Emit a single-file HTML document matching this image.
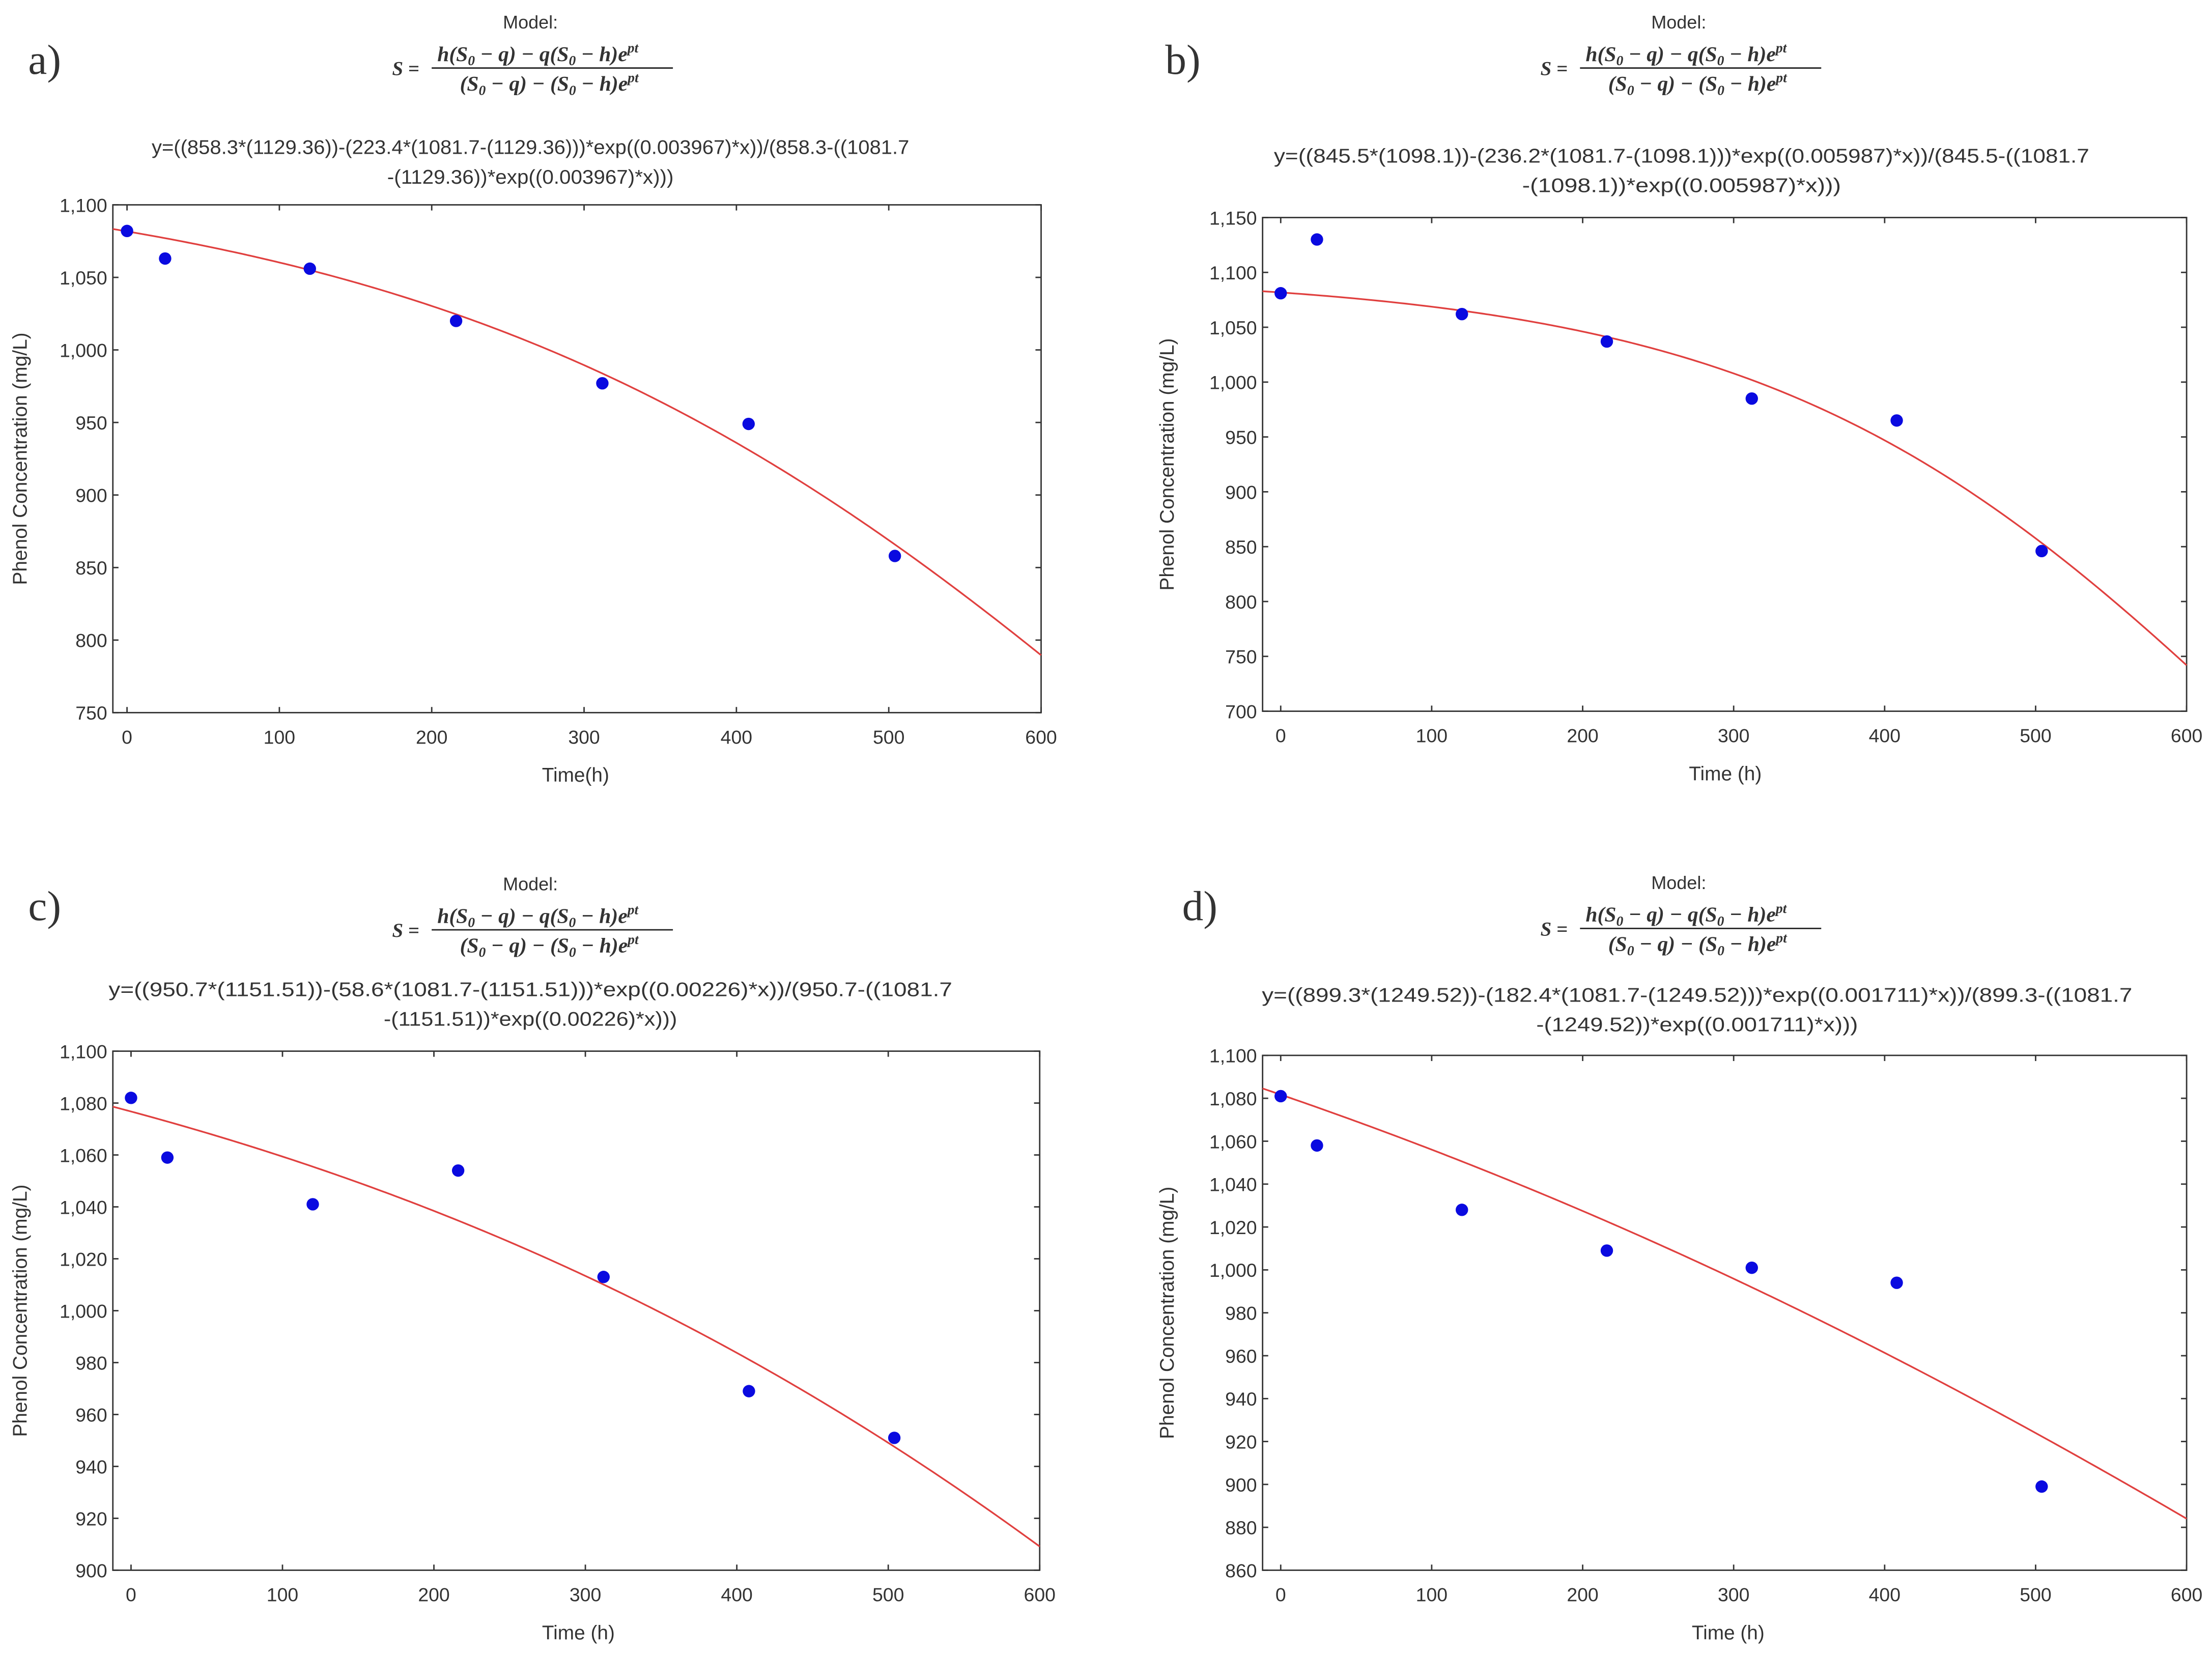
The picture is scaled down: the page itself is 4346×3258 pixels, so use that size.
<!DOCTYPE html>
<html><head><meta charset="utf-8"><style>
html,body{margin:0;padding:0;background:#fff;}
svg{display:block;}
text{font-family:"Liberation Sans",sans-serif;fill:#333;}
.serif{font-family:"Liberation Serif",serif;}
</style></head><body>
<svg id="fig" xmlns="http://www.w3.org/2000/svg" width="4346" height="3258" viewBox="0 0 1568 1175">
<rect width="1568" height="1175" fill="#fff"/>
</svg>
<script>
// Panel data (time in h, phenol concentration mg/L)
const timesA = [0, 25, 120, 216, 312, 408, 504];
const concA = [1082, 1063, 1056, 1020, 977, 949, 858];
const timesB = [0, 24, 120, 216, 312, 408, 504];
const concB = [1081, 1130, 1062, 1037, 985, 965, 846];
const timesC = [0, 24, 120, 216, 312, 408, 504];
const concC = [1082, 1059, 1041, 1054, 1013, 969, 951];
const timesD = [0, 24, 120, 216, 312, 408, 504];
const concD = [1081, 1058, 1028, 1009, 1001, 994, 899];
// Model parameters [a, b, c, k]
const paramsA = [858.3, 1129.36, 223.4, 0.003967];
const paramsB = [845.5, 1098.1, 236.2, 0.005987];
const paramsC = [950.7, 1151.51, 58.6, 0.00226];
const paramsD = [899.3, 1249.52, 182.4, 0.001711];
const xTicks = [0, 100, 200, 300, 400, 500, 600];
const yTicksA = [750, 800, 850, 900, 950, 1000, 1050, 1100];
const yTicksB = [700, 750, 800, 850, 900, 950, 1000, 1050, 1100, 1150];
const yTicksC = [900, 920, 940, 960, 980, 1000, 1020, 1040, 1060, 1080, 1100];
const yTicksD = [860, 880, 900, 920, 940, 960, 980, 1000, 1020, 1040, 1060, 1080, 1100];
const eqA = ["y=((858.3*(1129.36))-(223.4*(1081.7-(1129.36)))*exp((0.003967)*x))/(858.3-((1081.7", "-(1129.36))*exp((0.003967)*x)))"];
const eqB = ["y=((845.5*(1098.1))-(236.2*(1081.7-(1098.1)))*exp((0.005987)*x))/(845.5-((1081.7", "-(1098.1))*exp((0.005987)*x)))"];
const eqC = ["y=((950.7*(1151.51))-(58.6*(1081.7-(1151.51)))*exp((0.00226)*x))/(950.7-((1081.7", "-(1151.51))*exp((0.00226)*x)))"];
const eqD = ["y=((899.3*(1249.52))-(182.4*(1081.7-(1249.52)))*exp((0.001711)*x))/(899.3-((1081.7", "-(1249.52))*exp((0.001711)*x)))"];

const NS = "http://www.w3.org/2000/svg";
const svg = document.getElementById('fig');
function mk(tag, attrs, parent, txt){
  const e = document.createElementNS(NS, tag);
  for (const k in attrs) e.setAttribute(k, attrs[k]);
  if (txt !== undefined) e.textContent = txt;
  (parent || svg).appendChild(e);
  return e;
}
function fmt(v){ return v >= 1000 ? Math.floor(v/1000) + ',' + String(v%1000).padStart(3,'0') : String(v); }

function panel(id, label, L, cfg){
  const g = mk('g', {});
  
  
  const xs = v => L.x0 + (v - L.xmin) / (600 - L.xmin) * (L.x1 - L.x0);
  const ys = v => L.y1 - (v - cfg.ymin) / (cfg.ymax - cfg.ymin) * (L.y1 - L.y0);
  const pl = mk('text', {x: L.lx, y: L.ly, 'font-size': 30, class: 'serif', fill: '#111'}, g, label);
  
  
  const mt = mk('text', {x: L.fmx, y: L.my, 'font-size': 13, 'text-anchor': 'middle'}, g, 'Model:');
  
  
  const fg = mk('g', {}, g);
  
  
  const fx = L.fmx - 98, fy = L.my + 28;
  mk('text', {x: fx, y: fy + 5, 'font-size': 14, class: 'serif', 'font-weight': 'bold', 'font-style': 'italic', fill: '#222'}, fg, 'S =');
  mk('line', {x1: fx + 28, x2: fx + 199, y1: fy, y2: fy, stroke: '#222', 'stroke-width': 1}, fg);
  const num = mk('text', {x: fx + 32, y: fy - 5, 'font-size': 15, class: 'serif', 'font-weight': 'bold', 'font-style': 'italic', fill: '#222'}, fg);
  num.innerHTML = 'h(S<tspan font-size="10" dy="3">0</tspan><tspan dy="-3"> − q) − q(S</tspan><tspan font-size="10" dy="3">0</tspan><tspan dy="-3"> − h)e</tspan><tspan font-size="10" dy="-6">pt</tspan>';
  const den = mk('text', {x: fx + 48, y: fy + 16, 'font-size': 15, class: 'serif', 'font-weight': 'bold', 'font-style': 'italic', fill: '#222'}, fg);
  den.innerHTML = '(S<tspan font-size="10" dy="3">0</tspan><tspan dy="-3"> − q) − (S</tspan><tspan font-size="10" dy="3">0</tspan><tspan dy="-3"> − h)e</tspan><tspan font-size="10" dy="-6">pt</tspan>';
  const e1 = mk('text', {x: L.mx, y: L.e1, 'font-size': 14, 'text-anchor': 'middle', textLength: L.ew, lengthAdjust: 'spacingAndGlyphs'}, g, cfg.eq[0]);
  
  
  const e2 = mk('text', {x: L.mx, y: L.e1 + 21, 'font-size': 14, 'text-anchor': 'middle', textLength: L.ew2, lengthAdjust: 'spacingAndGlyphs'}, g, cfg.eq[1]);
  
  
  const box = mk('rect', {x: L.x0, y: L.y0, width: L.x1 - L.x0, height: L.y1 - L.y0, fill: '#fff', stroke: '#333', 'stroke-width': 1}, g);
  
  
  xTicks.forEach(t => {
    const x = xs(t);
    mk('line', {x1: x, x2: x, y1: L.y1, y2: L.y1 - 4, stroke: '#333'}, g);
    mk('line', {x1: x, x2: x, y1: L.y0, y2: L.y0 + 4, stroke: '#333'}, g);
    const tl = mk('text', {x: x, y: L.y1 + 22, 'font-size': 13.5, 'text-anchor': 'middle'}, g, String(t));
    
    
  });
  cfg.yt.forEach(t => {
    const y = ys(t);
    mk('line', {x1: L.x0, x2: L.x0 + 4, y1: y, y2: y, stroke: '#333'}, g);
    mk('line', {x1: L.x1, x2: L.x1 - 4, y1: y, y2: y, stroke: '#333'}, g);
    const tl = mk('text', {x: L.x0 - 4, y: y + 5, 'font-size': 13.5, 'text-anchor': 'end'}, g, fmt(t));
    
    
  });
  const xt = mk('text', {x: L.xtx, y: L.y1 + 49, 'font-size': 14, 'text-anchor': 'middle'}, g, cfg.xt);
  
  
  const yy = (L.y0 + L.y1) / 2;
  const yt = mk('text', {x: L.yx, y: yy, 'font-size': 14, 'text-anchor': 'middle', transform: 'rotate(-90 ' + L.yx + ' ' + yy + ')'}, g, 'Phenol Concentration (mg/L)');
  
  
  const [a, b, c, k] = cfg.p;
  const f = x => { const E = Math.exp(k * x); return (a * b - c * (1081.7 - b) * E) / (a - (1081.7 - b) * E); };
  let d = '';
  for (let i = 0; i <= 200; i++) {
    const x = L.xmin + (600 - L.xmin) * i / 200;
    d += (i ? 'L' : 'M') + xs(x).toFixed(2) + ' ' + ys(f(x)).toFixed(2);
  }
  const cp = mk('path', {d: d, fill: 'none', stroke: '#e0403f', 'stroke-width': 1.2}, g);
  
  
  cfg.t.forEach((t, i) => {
    const pt = mk('circle', {cx: xs(t), cy: ys(cfg.c[i]), r: 4.4, fill: '#0a0ae0'}, g);
    
    
  });
}

panel('a', 'a)', {x0: 80, x1: 738, y0: 145, y1: 505, xmin: -9.3, lx: 20, ly: 52, mx: 376, fmx: 376, my: 20, e1: 109, ew: 537, ew2: 203, xtx: 408, yx: 19},
  {t: timesA, c: concA, p: paramsA, ymin: 750, ymax: 1100, yt: yTicksA, eq: eqA, xt: 'Time(h)'});
panel('b', 'b)', {x0: 895, x1: 1550, y0: 154, y1: 504, xmin: -12, lx: 826, ly: 52, mx: 1192, fmx: 1190, my: 20, e1: 115, ew: 578, ew2: 226, xtx: 1223, yx: 832},
  {t: timesB, c: concB, p: paramsB, ymin: 700, ymax: 1150, yt: yTicksB, eq: eqB, xt: 'Time (h)'});
panel('c', 'c)', {x0: 80, x1: 737, y0: 745, y1: 1113, xmin: -12, lx: 20, ly: 652, mx: 376, fmx: 376, my: 631, e1: 706, ew: 598, ew2: 208, xtx: 410, yx: 19},
  {t: timesC, c: concC, p: paramsC, ymin: 900, ymax: 1100, yt: yTicksC, eq: eqC, xt: 'Time (h)'});
panel('d', 'd)', {x0: 895, x1: 1550, y0: 748, y1: 1113, xmin: -12, lx: 838, ly: 652, mx: 1203, fmx: 1190, my: 630, e1: 710, ew: 617, ew2: 228, xtx: 1225, yx: 832},
  {t: timesD, c: concD, p: paramsD, ymin: 860, ymax: 1100, yt: yTicksD, eq: eqD, xt: 'Time (h)'});
</script>
</body></html>
